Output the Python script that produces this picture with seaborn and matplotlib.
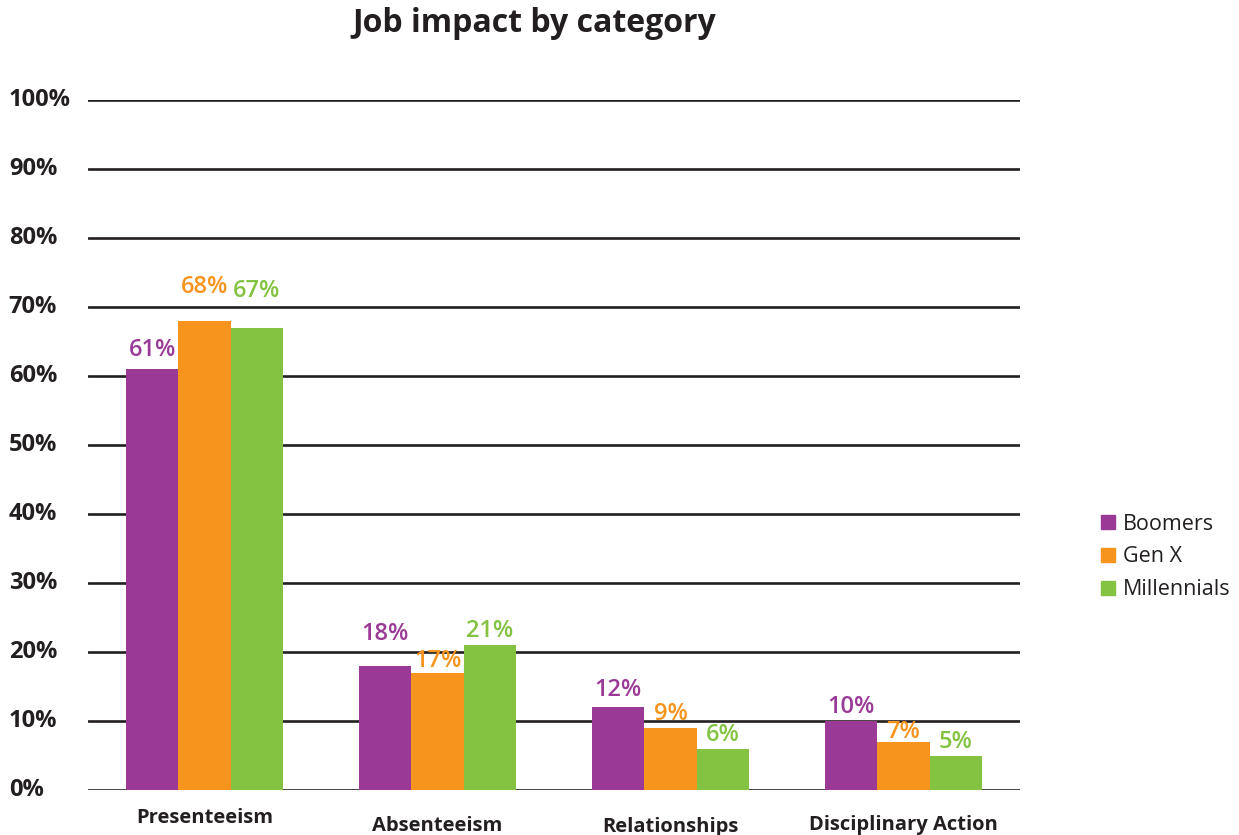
import matplotlib
matplotlib.use("Agg")
import matplotlib.pyplot as plt
import matplotlib.transforms as mtransforms
from matplotlib.lines import Line2D
import seaborn as sns
import pandas as pd

categories = ["Presenteeism", "Absenteeism", "Relationships", "Disciplinary Action"]
series_names = ["Boomers", "Gen X", "Millennials"]
boomers = [61, 18, 12, 10]
gen_x = [68, 17, 9, 7]
millennials = [67, 21, 6, 5]
y_ticks = [0, 10, 20, 30, 40, 50, 60, 70, 80, 90, 100]
y_tick_labels = [f"{v}%" for v in y_ticks]

colors = ["#9B3A96", "#F7941D", "#84C341"]
ink = "#231F20"

rows = []
for name, vals in zip(series_names, [boomers, gen_x, millennials]):
    for c, v in zip(categories, vals):
        rows.append({"category": c, "series": name, "value": v})
df = pd.DataFrame(rows)

sns.set_theme(style="white")
plt.rcParams["font.family"] = ["Open Sans", "DejaVu Sans"]

fig = plt.figure(figsize=(12.39, 8.35), dpi=100)
ax = fig.add_axes([88 / 1239, 45 / 835, 932 / 1239, 690 / 835])

sns.barplot(data=df, x="category", y="value", hue="series", order=categories,
            hue_order=series_names, palette=colors, width=0.675, saturation=1,
            legend=False, ax=ax, zorder=3, linewidth=0, edgecolor="none")

ax.set_xlim(-0.5, 3.5)
ax.set_ylim(0, 100)
for s in ax.spines.values():
    s.set_visible(False)
for v in y_ticks:
    ax.axhline(v, color=ink, lw=1.9, zorder=2)

ax.set_yticks(y_ticks)
ax.set_yticklabels(y_tick_labels, fontsize=17, fontweight="bold", color=ink)
ax.tick_params(axis="y", length=0, pad=57)
for t in ax.get_yticklabels():
    t.set_horizontalalignment("left")
    t.set_transform(t.get_transform() + mtransforms.ScaledTranslation(0, 3 / 100, fig.dpi_scale_trans))

ax.set_xticks(range(len(categories)))
ax.set_xticklabels(categories, fontsize=14.5, fontweight="bold", color=ink)
ax.tick_params(axis="x", length=0, pad=13)
# Presenteeism label sits a little higher than the others
x_label_drop_px = [0, 8, 9, 7]
for t, d in zip(ax.get_xticklabels(), x_label_drop_px):
    t.set_transform(t.get_transform() + mtransforms.ScaledTranslation(0, -d / 100, fig.dpi_scale_trans))

ax.set_xlabel("")
ax.set_ylabel("")

# value labels: centre sits ~14 px above the bar, with extra lift where a label clears a gridline
label_lift_px = {(0, 0): 5, (0, 1): 20, (0, 2): 23, (1, 0): 18, (1, 1): -2,
                 (2, 0): 3, (3, 1): -4}
for si, cont in enumerate(ax.containers):
    for ci, bar in enumerate(cont):
        h = bar.get_height()
        off_px = 14 + label_lift_px.get((ci, si), 0)
        ax.annotate(f"{h:.0f}%", (bar.get_x() + bar.get_width() / 2, h),
                    xytext=(0, off_px * 0.72), textcoords="offset points",
                    ha="center", va="center", fontsize=17, fontweight="semibold",
                    color=colors[si], zorder=4)

handles = [Line2D([], [], marker="s", linestyle="none", markersize=10,
                  markerfacecolor=c, markeredgecolor=c) for c in colors]
fig.legend(handles, series_names, loc="center left", bbox_to_anchor=(1086 / 1239, 1 - 557 / 835),
           frameon=False, fontsize=15.5, handletextpad=0.2, labelspacing=0.55,
           handlelength=1.0, borderpad=0, labelcolor=ink)

fig.text(534 / 1239, 1 - 24 / 835, "Job impact by category", ha="center", va="center",
         fontsize=23, fontweight="bold", color=ink)

fig.savefig("out.png", dpi=100)
